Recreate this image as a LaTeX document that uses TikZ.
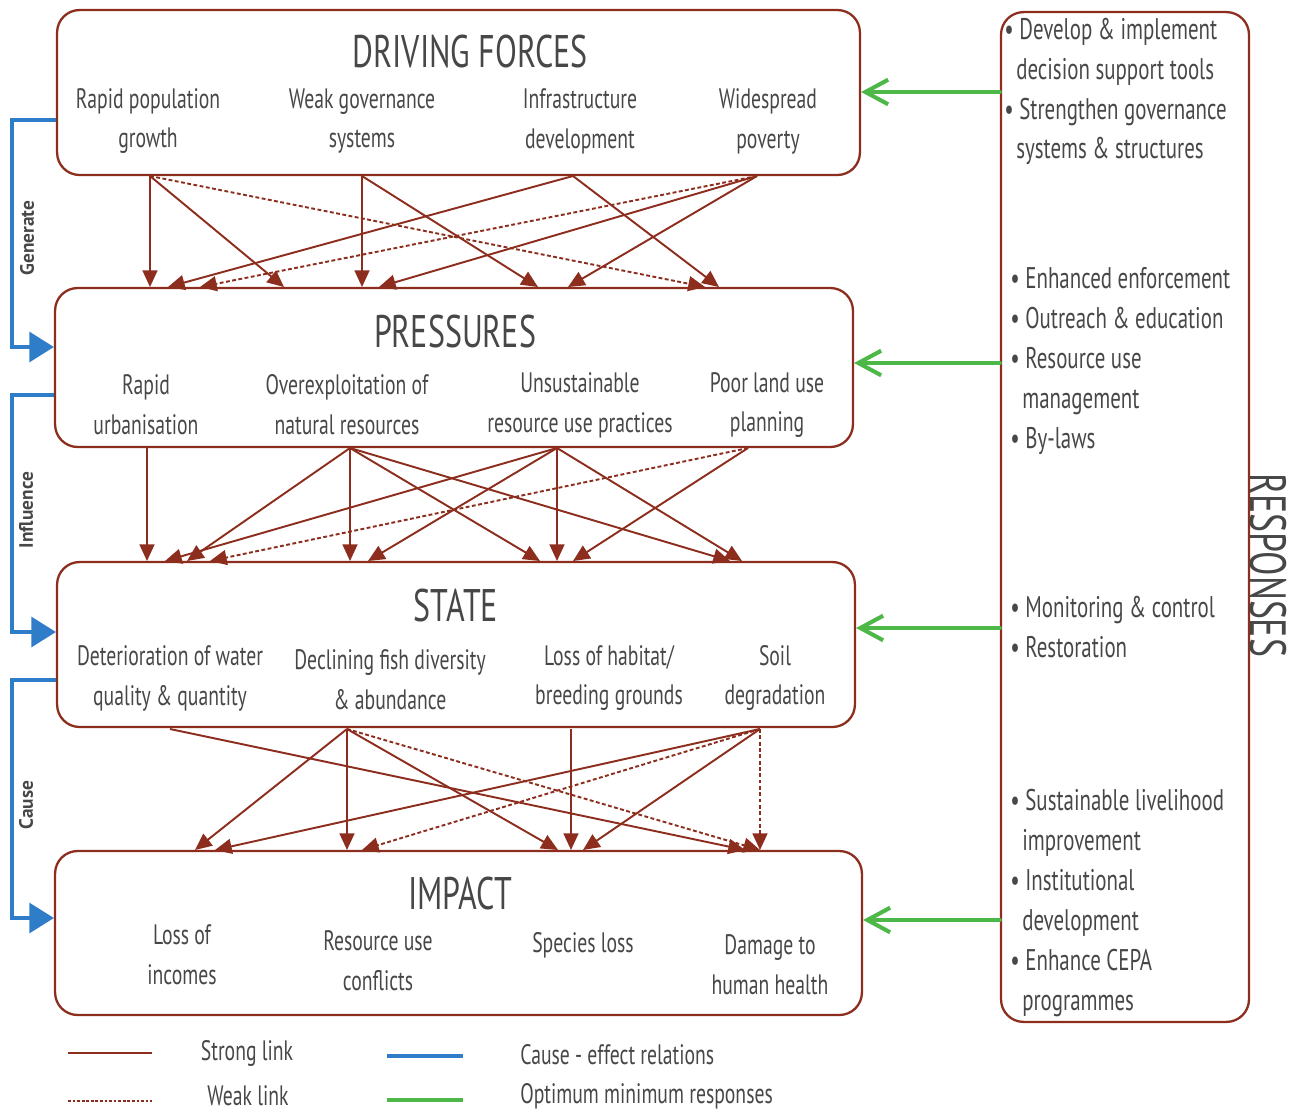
\documentclass[tikz,border=0pt]{standalone}
\usepackage{fontspec}
\setmainfont{PT Sans}[FakeStretch=0.7]
\newfontfamily\sidefont{PT Sans}
\usetikzlibrary{arrows.meta}
\definecolor{linkred}{HTML}{8C2D1E}
\definecolor{causeblue}{HTML}{2F7CC9}
\definecolor{respgreen}{HTML}{4DB748}
\definecolor{txtgray}{HTML}{474747}
\tikzstyle{box} = [draw=linkred, line width=1.3pt, rounded corners=0.45cm, inner sep=0pt]
\tikzstyle{title} = [text=txtgray, font=\fontsize{26}{30}\selectfont]
\tikzstyle{item} = [text=txtgray, align=center, inner sep=0pt, font=\fontsize{16}{22.7}\selectfont]
\tikzstyle{resptext} = [text=txtgray, align=left, inner sep=0pt, anchor=west, font=\fontsize{17}{22.7}\selectfont]
\tikzstyle{sidelabel} = [text=txtgray, rotate=90, font=\sidefont\bfseries\fontsize{11}{13}\selectfont]
\tikzstyle{strong} = [draw=linkred, line width=1.1pt, -{Triangle[length=9.5pt,width=8.5pt]}]
\tikzstyle{weak} = [strong, dash pattern=on 2.2pt off 1.4pt]
\tikzstyle{cause} = [draw=causeblue, line width=2pt, -{Triangle[length=14pt,width=17pt]}]
\tikzstyle{resp} = [draw=respgreen, line width=2.3pt, line cap=round, -{Straight Barb[length=13pt,width=14pt]}]

\begin{document}
\begin{tikzpicture}[x=0.02cm, y=-0.02cm]
  \useasboundingbox (0,0) rectangle (1298,1113);

  % the four DPSIR boxes and the responses column
  \node[box, minimum width=16.06cm, minimum height=3.3cm] (df) at (458.5,92.5) {};
  \node[box, minimum width=15.96cm, minimum height=3.18cm] (p) at (454,367.5) {};
  \node[box, minimum width=15.96cm, minimum height=3.3cm] (s) at (456,644.5) {};
  \node[box, minimum width=16.14cm, minimum height=3.28cm] (i) at (458.5,933) {};
  \node[box, minimum width=4.96cm, minimum height=20.2cm] (resp) at (1125,517) {};

  \node[title] (dftitle) at (470,52) {DRIVING FORCES};
  \node[title] (ptitle) at (455,332) {PRESSURES};
  \node[title] (stitle) at (456,605) {STATE};
  \node[title] (ititle) at (460,893) {IMPACT};
  \node[title, rotate=-90, font=\fontsize{29}{32}\selectfont] (resptitle) at (1268,565) {RESPONSES};

  \node[item] (dfpop) at (148,121) {Rapid population\\growth};
  \node[item] (dfgov) at (362,121) {Weak governance\\systems};
  \node[item] (dfinf) at (580,121) {Infrastructure\\development};
  \node[item] (dfpov) at (768,121) {Widespread\\poverty};

  \node[item] (purb) at (146,405) {Rapid\\urbanisation};
  \node[item] (pover) at (347,405) {Overexploitation of\\natural resources};
  \node[item] (puns) at (580,405) {Unsustainable\\resource use practices};
  \node[item] (pland) at (767,405) {Poor land use\\planning};

  \node[item] (swater) at (170,678) {Deterioration of water\\quality \& quantity};
  \node[item] (sfish) at (390,680) {Declining fish diversity\\\& abundance};
  \node[item] (shab) at (609,678) {Loss of habitat/\\breeding grounds};
  \node[item] (ssoil) at (775,678) {Soil\\degradation};

  \node[item] (iinc) at (182,955) {Loss of\\incomes};
  \node[item] (iconf) at (378,961) {Resource use\\conflicts};
  \node[item] (ispec) at (583,945) {Species loss};
  \node[item] (ihealth) at (770,965) {Damage to\\human health};

  \node[resptext] (resp1) at (1004,91.5) {• Develop \& implement\\\hspace{0.4em}decision support tools\\• Strengthen governance\\\hspace{0.4em}systems \& structures};
  \node[resptext] (resp2) at (1010,361) {• Enhanced enforcement\\• Outreach \& education\\• Resource use\\\hspace{0.4em}management\\• By-laws};
  \node[resptext] (resp3) at (1010,627) {• Monitoring \& control\\• Restoration};
  \node[resptext] (resp4) at (1010,903) {• Sustainable livelihood\\\hspace{0.4em}improvement\\• Institutional\\\hspace{0.4em}development\\• Enhance CEPA\\\hspace{0.4em}programmes};

  % driving forces -> pressures
  \foreach \n/\x in {A/150,B/362,C/573,D/757} \coordinate (d\n) at (\x,176);
  \foreach \n/\x in {1/150,2/168,3/200,4/284,5/362,6/379,7/538,8/568,9/705,10/719} \coordinate (pin\n) at (\x,287);
  \foreach \a/\b in {dA/pin1,dA/pin4,dB/pin5,dB/pin7,dC/pin2,dC/pin10,dD/pin6,dD/pin8} \draw[strong] (\a) -- (\b);
  \foreach \a/\b in {dA/pin9,dD/pin3} \draw[weak] (\a) -- (\b);

  % pressures -> state
  \foreach \n/\x in {A/147,B/350,C/557,D/748} \coordinate (p\n) at (\x,448);
  \foreach \n/\x in {1/147,2/165,3/187,4/210,5/350,6/368,7/540,8/557,9/573,10/730,11/742} \coordinate (sin\n) at (\x,561);
  \foreach \a/\b in {pA/sin1,pB/sin3,pB/sin5,pB/sin7,pB/sin10,pC/sin2,pC/sin6,pC/sin8,pC/sin11,pD/sin9} \draw[strong] (\a) -- (\b);
  \draw[weak] (pD) -- (sin4);

  % state -> impact
  \foreach \n/\x in {A/170,B/347,C/571,D/760} \coordinate (s\n) at (\x,729);
  \foreach \n/\x in {1/195,2/215,3/347,4/362,5/558,6/571,7/583,8/745,9/760} \coordinate (iin\n) at (\x,850);
  \foreach \a/\b in {sA/iin8,sB/iin1,sB/iin3,sB/iin5,sC/iin6,sD/iin2,sD/iin7} \draw[strong] (\a) -- (\b);
  \foreach \a/\b in {sB/iin9,sD/iin4,sD/iin9} \draw[weak] (\a) -- (\b);

  % cause - effect chain on the left
  \draw[cause] (df.west |- 0,120) -| (12,233) |- (p.west |- 0,347);
  \draw[cause] (p.west |- 0,395) -| (12,510) |- (s.west |- 0,632);
  \draw[cause] (s.west |- 0,680) -| (12,800) |- (i.west |- 0,918);
  \node[sidelabel] (gen) at (27,238) {Generate};
  \node[sidelabel] (infl) at (26,510) {Influence};
  \node[sidelabel] (cau) at (26,805) {Cause};

  % responses
  \draw[resp] (resp.west |- 0,92) -- (df.east |- 0,92);
  \draw[resp] (resp.west |- 0,363) -- (p.east |- 0,363);
  \draw[resp] (resp.west |- 0,628) -- (s.east |- 0,628);
  \draw[resp] (resp.west |- 0,920) -- (i.east |- 0,920);

  % legend
  \coordinate (l1a) at (68,1053); \coordinate (l1b) at (152,1053);
  \coordinate (l2a) at (68,1101); \coordinate (l2b) at (152,1101);
  \coordinate (l3a) at (387,1056); \coordinate (l3b) at (463,1056);
  \coordinate (l4a) at (387,1100); \coordinate (l4b) at (463,1100);
  \draw[draw=linkred, line width=1.2pt] (l1a) -- (l1b);
  \draw[draw=linkred, line width=1.2pt, dash pattern=on 1.6pt off 1pt] (l2a) -- (l2b);
  \draw[draw=causeblue, line width=2pt] (l3a) -- (l3b);
  \draw[draw=respgreen, line width=2.2pt] (l4a) -- (l4b);
  \node[item] (lstrong) at (247,1053) {Strong link};
  \node[item] (lweak) at (248,1096) {Weak link};
  \node[item, anchor=west] (lcause) at (520,1055) {Cause - effect relations};
  \node[item, anchor=west] (lresp) at (520,1096) {Optimum minimum responses};
\end{tikzpicture}
\end{document}
